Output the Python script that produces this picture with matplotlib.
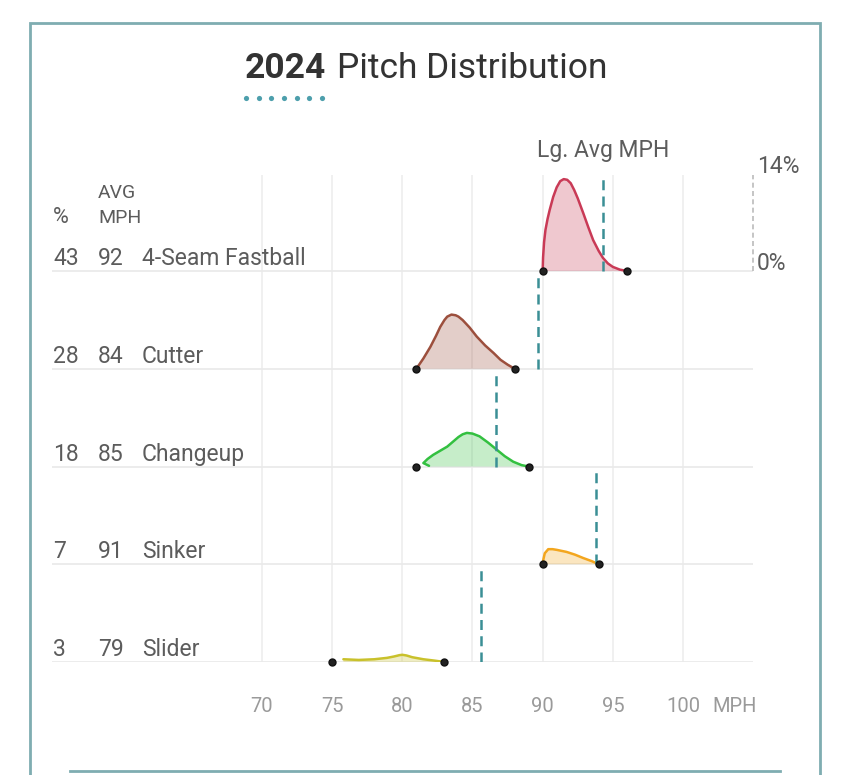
import numpy as np
import matplotlib
matplotlib.use("Agg")
from matplotlib import pyplot as plt
from matplotlib.transforms import blended_transform_factory

plt.rcParams["font.family"] = ["Roboto", "DejaVu Sans"]

# ---- Data ----
PITCHES = ["4-Seam Fastball", "Cutter", "Changeup", "Sinker", "Slider"]
USAGE_PCT = [43, 28, 18, 7, 3]
AVG_MPH = [92, 84, 85, 91, 79]
LG_AVG_MPH = [94.3, 89.7, 86.7, 93.8, 85.6]
MIN_MPH = [90, 81, 81, 90, 75]
MAX_MPH = [96, 88, 89, 94, 83]

# density curves: (mph, % of pitches)
FASTBALL_MPH = [90.0, 90.03, 90.1, 90.2, 90.35, 90.5, 90.75, 91.0, 91.25, 91.5, 91.75,
                92.0, 92.25, 92.5, 92.9, 93.25, 93.6, 94.0, 94.3, 94.65, 95.0, 95.5, 96.0]
FASTBALL_PCT = [0.0, 2.0, 4.2, 6.0, 7.6, 8.9, 10.8, 12.2, 13.1, 13.4, 13.3,
                12.8, 11.8, 10.6, 8.4, 6.4, 4.5, 2.9, 1.9, 1.1, 0.6, 0.2, 0.0]
CUTTER_MPH = [81.0, 81.5, 82.0, 82.4, 82.7, 83.0, 83.2, 83.5, 83.8, 84.0, 84.3, 84.8,
              85.3, 85.9, 86.5, 87.0, 87.5, 88.0]
CUTTER_PCT = [0.0, 1.5, 3.2, 4.8, 6.1, 7.1, 7.6, 7.9, 7.8, 7.6, 7.1, 6.0,
              4.7, 3.4, 2.3, 1.3, 0.6, 0.0]
CHANGEUP_MPH = [81.9, 81.5, 81.8, 82.2, 82.7, 83.2, 83.6, 84.0, 84.3, 84.6, 85.0, 85.5,
                86.1, 86.7, 87.3, 87.9, 88.5, 89.0]
CHANGEUP_PCT = [0.1, 0.5, 1.1, 1.7, 2.3, 2.9, 3.6, 4.3, 4.7, 4.9, 4.8, 4.4,
                3.5, 2.5, 1.5, 0.7, 0.2, 0.0]
SINKER_MPH = [90.0, 90.05, 90.15, 90.4, 90.7, 91.0, 91.7, 92.3, 92.9, 93.5, 94.0]
SINKER_PCT = [0.0, 0.7, 1.6, 2.2, 2.2, 2.1, 1.8, 1.4, 0.9, 0.45, 0.0]
SLIDER_MPH = [75.8, 76.9, 78.0, 78.9, 79.4, 79.8, 80.0, 80.3, 80.7, 81.5, 82.3, 83.0]
SLIDER_PCT = [0.4, 0.3, 0.4, 0.6, 0.8, 1.0, 1.05, 0.95, 0.7, 0.4, 0.2, 0.0]

CURVES = [(FASTBALL_MPH, FASTBALL_PCT), (CUTTER_MPH, CUTTER_PCT),
          (CHANGEUP_MPH, CHANGEUP_PCT), (SINKER_MPH, SINKER_PCT),
          (SLIDER_MPH, SLIDER_PCT)]
COLORS = ["#c93a56", "#9c4f3d", "#33c040", "#f3a61e", "#c9c12b"]
XTICKS = [70, 75, 80, 85, 90, 95, 100]

# ---- Layout (pixels of an 850x775 canvas) ----
W, H = 850, 775
PX_PER_MPH = 14.033          # 70 -> x=262, 100 -> x=683
PX_PER_PCT = 96 / 14         # 14% row height = 96 px
ROW_PX = [271, 369, 467, 564, 662]
ROW_GAP = (ROW_PX[-1] - ROW_PX[0]) / 4 / PX_PER_PCT
AX_LEFT, AX_RIGHT, AX_TOP = 52, 753, 175
TEXT_C = "#5c5c5c"
TEAL = "#3a8f95"
ROW_FS = 16.5


def fy(py):
    return 1 - py / H


fig = plt.figure(figsize=(W / 100, H / 100), dpi=100)

# decoration layer in pixel coords
bg = fig.add_axes([0, 0, 1, 1])
bg.set_xlim(0, W)
bg.set_ylim(H, 0)
bg.axis("off")
border = "#7fadb1"
bg.plot([30, 30, 820, 820], [H, 23, 23, H], color=border, lw=2, solid_joinstyle="miter")
bg.plot([70, 780], [771, 771], color=border, lw=2)
bg.scatter(np.linspace(246, 322, 7), [98] * 7, s=14, color="#4d9fac", lw=0)

t1 = fig.text(245 / W, fy(78), "2024", fontsize=25.5, fontweight="bold", color="#333333",
              va="baseline", ha="left")
fig.canvas.draw()
bb = t1.get_window_extent()
fig.text((bb.x1 + 11) / W, fy(78), "Pitch Distribution", fontsize=25.5, color="#333333",
         va="baseline", ha="left")

# main axes
ax = fig.add_axes([AX_LEFT / W, fy(ROW_PX[-1]), (AX_RIGHT - AX_LEFT) / W,
                   (ROW_PX[-1] - AX_TOP) / H])
x0 = 70 + (AX_LEFT - 262) / PX_PER_MPH
x1 = 70 + (AX_RIGHT - 262) / PX_PER_MPH
ax.set_xlim(x0, x1)
ax.set_ylim(-4 * ROW_GAP, 14)
ax.axis("off")

offsets = [-i * ROW_GAP for i in range(len(PITCHES))]
ax.vlines(XTICKS, -4 * ROW_GAP, 14, color="#eeeeee", lw=1.2, zorder=0)
ax.hlines(offsets, x0, x1, color="#e9e9e9", lw=1.2, zorder=1)

for i, (name, off) in enumerate(zip(PITCHES, offsets)):
    xs, ys = CURVES[i]
    ys = np.array(ys) + off
    c = COLORS[i]
    ax.fill(list(xs) + [xs[-1], xs[0]], list(ys) + [off, off], color=c, alpha=0.28,
            lw=0, zorder=2)
    ax.plot(xs, ys, color=c, lw=1.8, solid_capstyle="round", solid_joinstyle="round",
            zorder=3)
    ax.vlines(LG_AVG_MPH[i], off, off + 14, color=TEAL, lw=1.8, linestyles=(0, (4, 2.5)),
              zorder=4)
    ax.plot([MIN_MPH[i], MAX_MPH[i]], [off, off], ls="none", marker="o", ms=5,
            mfc="#222222", mec="#111111", zorder=5, clip_on=False)

    by = fy(ROW_PX[i] - 6)
    fig.text(53 / W, by, str(USAGE_PCT[i]), fontsize=ROW_FS, color=TEXT_C, va="baseline")
    fig.text(98 / W, by, str(AVG_MPH[i]), fontsize=ROW_FS, color=TEXT_C, va="baseline")
    fig.text(142 / W, by, name, fontsize=ROW_FS, color=TEXT_C, va="baseline")

# column headers
fig.text(53 / W, fy(223), "%", fontsize=15.5, color=TEXT_C, va="baseline")
fig.text(98 / W, fy(198), "AVG", fontsize=14, color=TEXT_C, va="baseline")
fig.text(98 / W, fy(223), "MPH", fontsize=14, color=TEXT_C, va="baseline")

# density scale
ax.vlines(x1, 0, 14, color="#bbbbbb", lw=1.2, linestyles=(0, (3, 2)), clip_on=False)
fig.text(757 / W, fy(173), "14%", fontsize=16.5, color=TEXT_C, va="baseline")
fig.text(757 / W, fy(270), "0%", fontsize=16.5, color=TEXT_C, va="baseline")
fig.text(537 / W, fy(157), "Lg. Avg MPH", fontsize=16.5, color=TEXT_C, va="baseline")

# x tick labels
trans = blended_transform_factory(ax.transData, fig.transFigure)
for v in XTICKS:
    ax.text(v, fy(712), str(v), transform=trans, ha="center", va="baseline",
            fontsize=14.5, color="#9a9a9a")
fig.text(712 / W, fy(712), "MPH", fontsize=14.5, color="#9a9a9a", va="baseline")

fig.savefig("out.png", dpi=100)
